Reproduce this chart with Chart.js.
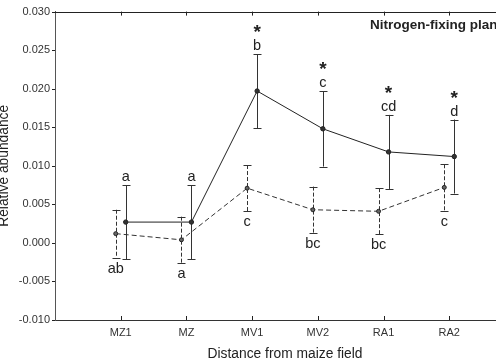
<!DOCTYPE html>
<html>
<head>
<meta charset="utf-8">
<script src="https://cdn.jsdelivr.net/npm/chart.js@4.4.1/dist/chart.umd.min.js"></script>
<style>
  html, body { margin: 0; padding: 0; overflow: hidden; background: #fff; }
</style>
</head>
<body>
<canvas id="abundanceChart" width="520" height="363"></canvas>
<script>
const categories = ['MZ1', 'MZ', 'MV1', 'MV2', 'RA1', 'RA2'];
const solidMean = [0.0027, 0.0027, 0.0197, 0.0148, 0.0118, 0.0112];
const solidErr = [0.0048, 0.0048, 0.0048, 0.0049, 0.0048, 0.0048];
const dashedMean = [0.0012, 0.0004, 0.0071, 0.0043, 0.0041, 0.0072];
const dashedErr = [0.0031, 0.0030, 0.0030, 0.0030, 0.0030, 0.0030];
const solidLetters = ['a', 'a', 'b', 'c', 'cd', 'd'];
const dashedLetters = ['ab', 'a', 'c', 'bc', 'bc', 'c'];
const stars = ['', '', '*', '*', '*', '*'];
const panelTitle = 'Nitrogen-fixing plants';

const FONT = '"Liberation Sans", Arial, sans-serif';
const shift = 0.076;

const solidPoints = solidMean.map((v, i) => ({ x: i + 1 + shift, y: v }));
const dashedPoints = dashedMean.map((v, i) => ({ x: i + 1 - shift, y: v }));

const extras = {
  id: 'extras',
  beforeDatasetsDraw(chart) {
    const { ctx, scales: { x, y } } = chart;
    ctx.save();
    ctx.lineWidth = 1;
    ctx.strokeStyle = '#333';
    const bars = (means, errs, off, dash) => {
      means.forEach((m, i) => {
        const px = Math.round(x.getPixelForValue(i + 1 + off)) + 0.5;
        const top = y.getPixelForValue(m + errs[i]);
        const bot = y.getPixelForValue(m - errs[i]);
        ctx.setLineDash(dash);
        ctx.beginPath();
        ctx.moveTo(px, top);
        ctx.lineTo(px, bot);
        ctx.stroke();
        ctx.setLineDash([]);
        ctx.beginPath();
        ctx.moveTo(px - 4, Math.round(top) + 0.5);
        ctx.lineTo(px + 4, Math.round(top) + 0.5);
        ctx.moveTo(px - 4, Math.round(bot) + 0.5);
        ctx.lineTo(px + 4, Math.round(bot) + 0.5);
        ctx.stroke();
      });
    };
    bars(solidMean, solidErr, shift, []);
    bars(dashedMean, dashedErr, -shift, [4, 2]);
    ctx.restore();
  },
  afterDraw(chart) {
    const { ctx, chartArea, scales: { x, y } } = chart;
    ctx.save();
    ctx.strokeStyle = '#222';
    ctx.lineWidth = 1;
    // top frame line
    ctx.beginPath();
    ctx.moveTo(chartArea.left, Math.round(chartArea.top) + 0.5);
    ctx.lineTo(chartArea.right, Math.round(chartArea.top) + 0.5);
    ctx.stroke();
    // ticks
    ctx.beginPath();
    categories.forEach((c, i) => {
      const px = Math.round(x.getPixelForValue(i + 1)) + 0.5;
      ctx.moveTo(px, chartArea.top);
      ctx.lineTo(px, chartArea.top + 4);
      ctx.moveTo(px, chartArea.bottom);
      ctx.lineTo(px, chartArea.bottom - 4);
    });
    y.ticks.forEach(t => {
      const py = Math.round(y.getPixelForValue(t.value)) + 0.5;
      ctx.moveTo(chartArea.left - 3, py);
      ctx.lineTo(chartArea.left, py);
    });
    ctx.stroke();

    // significance letters
    ctx.fillStyle = '#222';
    ctx.textAlign = 'center';
    ctx.textBaseline = 'alphabetic';
    ctx.font = '14.5px ' + FONT;
    solidLetters.forEach((s, i) => {
      const px = x.getPixelForValue(i + 1 + shift);
      const py = y.getPixelForValue(solidMean[i] + solidErr[i]) - 4;
      ctx.fillText(s, px, py);
    });
    dashedLetters.forEach((s, i) => {
      const px = x.getPixelForValue(i + 1 - shift);
      const py = y.getPixelForValue(dashedMean[i] - dashedErr[i]) + 15;
      ctx.fillText(s, px, py);
    });
    ctx.font = 'bold 19px ' + FONT;
    stars.forEach((s, i) => {
      if (!s) return;
      const px = x.getPixelForValue(i + 1 + shift);
      const py = y.getPixelForValue(solidMean[i] + solidErr[i]) - 4 - 14;
      ctx.fillText(s, px, py + 2);
    });

    ctx.font = 'bold 13.5px ' + FONT;
    ctx.textAlign = 'left';
    ctx.textBaseline = 'middle';
    ctx.fillText(panelTitle, 370, 25);
    ctx.restore();
  }
};

new Chart(document.getElementById('abundanceChart'), {
  type: 'scatter',
  data: {
    datasets: [
      {
        data: solidPoints,
        showLine: true,
        borderColor: '#222',
        borderWidth: 1,
        pointRadius: 2.2,
        pointBackgroundColor: '#333',
        pointBorderColor: '#222',
        pointBorderWidth: 1
      },
      {
        data: dashedPoints,
        showLine: true,
        borderColor: '#333',
        borderWidth: 1,
        borderDash: [5, 3],
        pointRadius: 2,
        pointBackgroundColor: '#666',
        pointBorderColor: '#222',
        pointBorderWidth: 1
      }
    ]
  },
  options: {
    responsive: false,
    animation: false,
    layout: { padding: { top: 11, right: 4, left: 0, bottom: 0 } },
    plugins: { legend: { display: false }, tooltip: { enabled: false } },
    scales: {
      x: {
        type: 'linear',
        min: 0,
        max: 7,
        afterFit: s => { s.height = 43; },
        afterBuildTicks: s => { s.ticks = categories.map((c, i) => ({ value: i + 1 })); },
        grid: { display: false, drawTicks: false },
        border: { display: true, color: '#333', width: 1 },
        ticks: {
          padding: 6,
          color: '#333',
          font: { family: FONT, size: 11 },
          callback: v => categories[v - 1] || ''
        },
        title: {
          display: true,
          text: 'Distance from maize field',
          color: '#222',
          font: { family: FONT, size: 13.8 },
          padding: { top: 0, bottom: 1 }
        }
      },
      y: {
        min: -0.01,
        max: 0.03,
        afterFit: s => { s.width = 55; },
        grid: { display: false, drawTicks: false },
        border: { display: true, color: '#555', width: 1 },
        ticks: {
          stepSize: 0.005,
          padding: 5,
          color: '#333',
          font: { family: FONT, size: 11 },
          callback: v => v.toFixed(3)
        },
        title: {
          display: true,
          text: 'Relative abundance',
          color: '#222',
          font: { family: FONT, size: 13.8 },
          padding: { top: -4, bottom: 0 }
        }
      }
    }
  },
  plugins: [extras]
});
</script>
</body>
</html>
